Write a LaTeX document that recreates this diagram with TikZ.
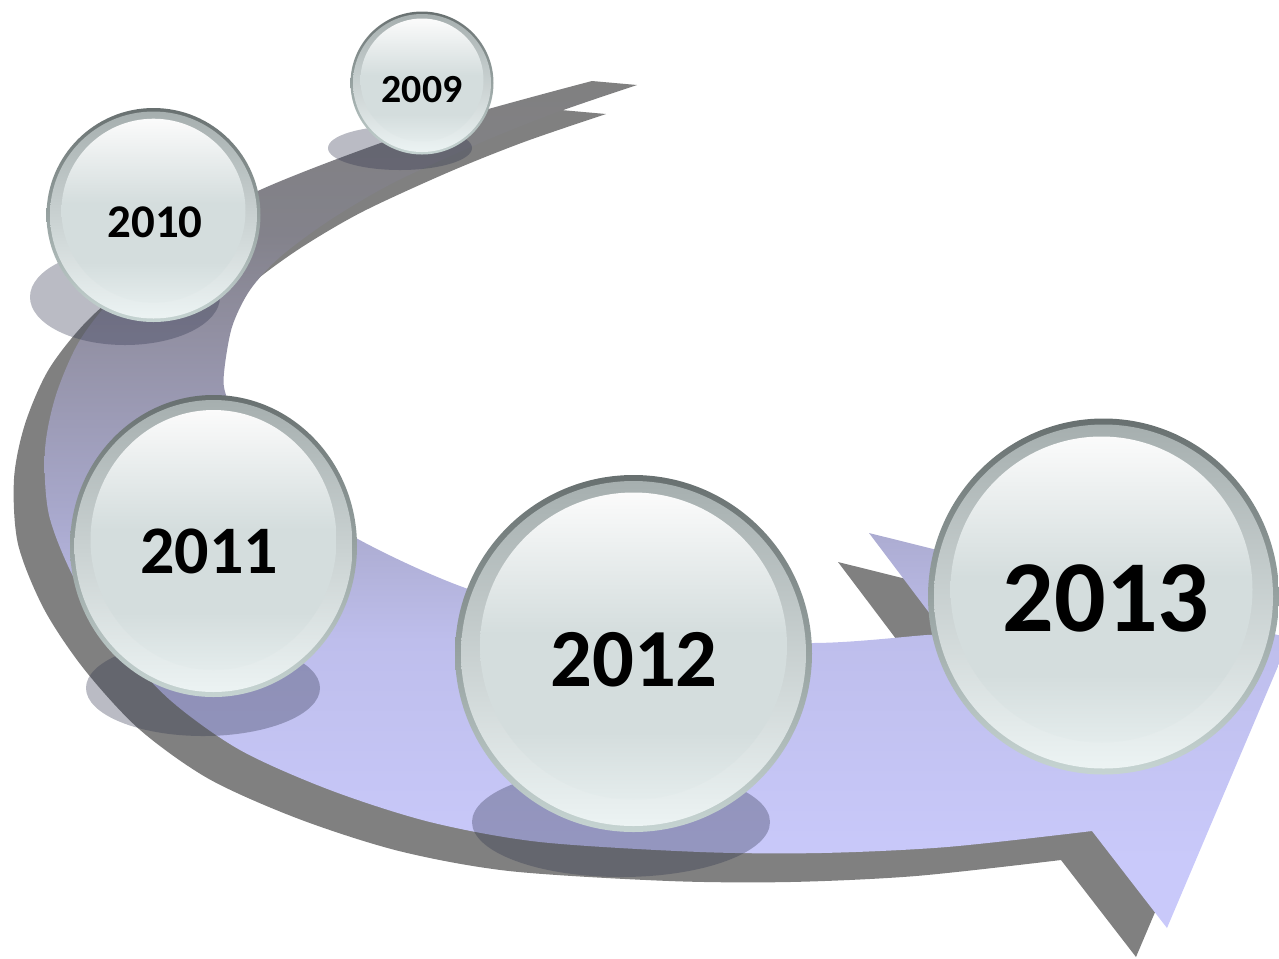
\documentclass[tikz,border=0pt]{standalone}
\usepackage{fontspec}
\setmainfont{Carlito}
\usepackage{tikz}

\definecolor{bandgray}{RGB}{128,128,128}
\definecolor{bandA}{RGB}{131,130,139}
\definecolor{bandB}{RGB}{146,144,163}
\definecolor{bandC}{RGB}{167,167,202}
\definecolor{bandD}{RGB}{190,190,236}
\definecolor{bandE}{RGB}{201,201,250}
\definecolor{blobcol}{RGB}{45,50,75}
\definecolor{rimtop}{RGB}{104,112,112}
\definecolor{rimbot}{RGB}{198,212,210}
\definecolor{ringtop}{RGB}{166,175,175}
\definecolor{ringbot}{RGB}{236,243,243}
\definecolor{glasstop}{RGB}{251,251,251}
\definecolor{glassmid}{RGB}{212,221,221}
\definecolor{glassbot}{RGB}{228,236,236}

\pgfdeclareverticalshading{bandfade}{100bp}{color(0bp)=(bandE); color(29bp)=(bandE); color(42bp)=(bandD); color(50bp)=(bandC); color(60bp)=(bandB); color(66bp)=(bandA); color(75bp)=(bandgray); color(100bp)=(bandgray)}
\pgfdeclareverticalshading{glassfade}{100bp}{color(0bp)=(glassbot); color(25bp)=(glassbot); color(36bp)=(glassmid); color(52bp)=(glassmid); color(75bp)=(glasstop); color(100bp)=(glasstop)}

\tikzset{
    bandshadow/.style={fill=bandgray},
    band/.style={shading=bandfade},
    blob/.style={fill=blobcol, fill opacity=0.33},
    rim/.style={top color=rimtop, bottom color=rimbot},
    ring/.style={top color=ringtop, bottom color=ringbot},
    glass/.style={shading=glassfade},
    year/.style={font=\fontsize{#1}{#1}\selectfont\bfseries, inner sep=0pt, text=black}
}

\newcommand{\bandline}{plot[smooth] coordinates {(592,81) (424,128) (260,190) (180,240) (120,290) (80,340) (56,395) (45,450) (49,515) (75,580) (115,640) (170,700) (240,750) (330,790) (430,822) (540,842) (700,852) (821,853) (947,847) (1092,831)}
    -- (1167,928) -- (1290,638) -- (869,533)
    -- plot[smooth] coordinates {(946,635) (927,635) (813,643) (640,636) (471,590) (356,538) (290,490) (245,440) (226,395) (224,373) (232,327) (250,290) (280,257) (330,220) (393,183) (480,143) (555,113) (637,85)}
    -- cycle}

\begin{document}
\begin{tikzpicture}[x=0.02cm, y=-0.02cm]
    \useasboundingbox (0,0) rectangle (1279,958);
    \clip (0,0) rectangle (1279,958);
    % the band and its shadow
    \fill[bandshadow, shift={(-31,29)}] \bandline;
    \shade[band] \bandline;
    % shadows under the bubbles
    \fill[blob] (400,148) ellipse [x radius=72, y radius=22];
    \fill[blob] (125,297) ellipse [x radius=95, y radius=48];
    \fill[blob] (203,688) ellipse [x radius=117, y radius=48];
    \fill[blob] (621,822) ellipse [x radius=149, y radius=55];
    % bubbles
    \shade[rim] (422,83) circle [radius=71.5];
    \shade[ring] (422,83) circle [radius=69];
    \shade[glass] (422,80) circle [radius=61.5];
    \node[year=22.7] (y2009) at (422,90) {2009};
    %
    \shade[rim] (153.5,215) circle [radius=107];
    \shade[ring] (153.5,215) circle [radius=103.5];
    \shade[glass] (153.5,210.7) circle [radius=92];
    \node[year=26.7] (y2010) at (155,222) {2010};
    %
    \shade[rim] (213.5,546) ellipse [x radius=143.5, y radius=151];
    \shade[ring] (213.5,546) ellipse [x radius=139, y radius=146];
    \shade[glass] (213.5,540) ellipse [x radius=123, y radius=130];
    \node[year=38.7] (y2011) at (209,551) {2011};
    %
    \shade[rim] (633.5,653.5) circle [radius=178.5];
    \shade[ring] (633.5,653.5) circle [radius=172.5];
    \shade[glass] (633.5,646) circle [radius=153.5];
    \node[year=47] (y2012) at (634,660) {2012};
    %
    \shade[rim] (1103.5,596.5) ellipse [x radius=175.5, y radius=178];
    \shade[ring] (1103.5,596.5) ellipse [x radius=169.5, y radius=172];
    \shade[glass] (1101.5,589.5) ellipse [x radius=151, y radius=153];
    \node[year=58] (y2013) at (1106,598) {2013};
\end{tikzpicture}
\end{document}
